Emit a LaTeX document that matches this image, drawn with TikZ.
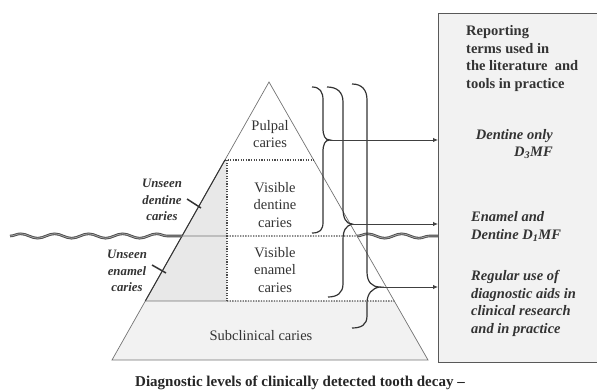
\documentclass[tikz,border=0pt]{standalone}
\usepackage{fontspec}
\setmainfont{Liberation Serif}
\usetikzlibrary{calc,arrows.meta,decorations.pathmorphing}
\begin{document}
\begin{tikzpicture}[x=1pt,y=-1pt,
  lbl/.style={inner sep=0pt, align=center, font=\fontsize{14.5}{17.5}\selectfont, text=black!80},
  unseen/.style={inner sep=0pt, align=center, font=\fontsize{12.8}{16.5}\selectfont\bfseries\itshape, text=black!80},
  boxtxt/.style={inner sep=0pt, font=\fontsize{14.5}{17.6}\selectfont\bfseries, text=black!80},
  boxital/.style={boxtxt, font=\fontsize{14.5}{17.6}\selectfont\bfseries\itshape},
  pyredge/.style={draw=black!55, line width=0.7pt},
  dotline/.style={draw=black!70, line width=1.2pt, dash pattern=on 1.3pt off 1.3pt},
  brace/.style={draw=black!80, line width=1.2pt},
  arr/.style={draw=black!75, line width=0.9pt, -{Latex[length=5pt,width=4.5pt]}},
  wave/.style={draw=black!70, line width=0.9pt, double=black!35, double distance=0.8pt, decorate, decoration={snake, segment length=34pt, amplitude=2.2pt}},
  tickmark/.style={draw=black!80, line width=1.5pt},
  boxline/.style={draw=black!65, line width=0.9pt},
]
\useasboundingbox (0,0) rectangle (597,390);

% reporting box
\node[draw=none, fill=black!5, minimum width=170pt, minimum height=349pt, anchor=north west, inner sep=0pt] (box) at (438,13) {};
\draw[boxline] (box.north east) -- (box.north west) -- (box.south west) -- (box.south east);

% pyramid geometry
\coordinate (apex) at (269,82);
\coordinate (bl) at (112,360);
\coordinate (br) at (428,360);
\coordinate (L1) at ($(apex)!0.2806!(bl)$);
\coordinate (R1) at ($(apex)!0.2806!(br)$);
\coordinate (L2) at ($(apex)!0.554!(bl)$);
\coordinate (R2) at ($(apex)!0.554!(br)$);
\coordinate (L3) at ($(apex)!0.7878!(bl)$);
\coordinate (R3) at ($(apex)!0.7878!(br)$);
\coordinate (V1) at (227,160);
\coordinate (V2) at (227,236);
\coordinate (V3) at (227,301);

\fill[black!9] (L1) -- (V1) -- (V3) -- (L3) -- cycle;
\fill[black!5] (L3) -- (R3) -- (br) -- (bl) -- cycle;

\draw[pyredge] (apex) -- (bl) -- (br) -- cycle;
\draw[draw=black!80, line width=1pt] (L1) -- (L3);
\draw[pyredge, line width=0.9pt] (L2) -- (V2);
\draw[pyredge, line width=0.9pt] (L3) -- (V3);
\draw[dotline] (L1) -- (R1);
\draw[dotline] (V1) -- (V3);
\draw[dotline] (V2) -- (R2);
\draw[dotline] (V3) -- (R3);

% water line
\coordinate (w0) at (10,236);
\draw[wave] (w0) -- (L2);
\draw[wave] (R2) -- (box.west |- R2);

% braces
\coordinate (t1) at (330,140);
\coordinate (t2) at (352,224);
\coordinate (t3) at (380,287);
\draw[brace] (312,87) .. controls (320,87) and (323,92) .. (323,100) -- (323,128)
  .. controls (323,136) and (325,140) .. (t1)
  .. controls (325,140) and (323,144) .. (323,152) -- (323,222)
  .. controls (323,230) and (320,233) .. (312,233);
\draw[brace] (327,87) .. controls (337,87) and (343,92) .. (343,102) -- (343,208)
  .. controls (343,218) and (346,224) .. (t2)
  .. controls (346,226) and (343,230) .. (343,240) -- (343,284)
  .. controls (343,293) and (337,297) .. (328,297);
\draw[brace] (352,84) .. controls (362,84) and (367,90) .. (367,100) -- (367,272)
  .. controls (367,282) and (372,287) .. (t3)
  .. controls (372,288) and (367,294) .. (367,303) -- (367,316)
  .. controls (367,325) and (361,328) .. (352,328);

% arrows
\draw[arr] (t1) -- (t1 -| box.west);
\draw[arr] (t2) -- (t2 -| box.west);
\draw[arr] (t3) -- (t3 -| box.west);

% tick marks
\draw[tickmark] (187,199) -- (201,208);
\draw[tickmark] (152,265) -- (166,273);

% pyramid labels
\node[lbl] (pulpal) at (270,134) {Pulpal\\caries};
\node[lbl] (vdent) at (275,205) {Visible\\dentine\\caries};
\node[lbl] (venam) at (275,270) {Visible\\enamel\\caries};
\node[lbl] (subcl) at (261,336) {Subclinical caries};
\node[unseen] (udent) at (162,200) {Unseen\\dentine\\caries};
\node[unseen] (uenam) at (127,271) {Unseen\\enamel\\caries};

% box texts
\node[boxtxt, anchor=west, align=left] (hdr) at (466,58.5) {Reporting\\terms used in\\the literature~ and\\tools in practice};
\node[boxital, anchor=east, align=right] (dentonly) at (553,144) {Dentine only\\D\textsubscript{3}MF};
\node[boxital, anchor=west, align=left] (enamdent) at (471,226.5) {Enamel and\\Dentine D\textsubscript{1}MF};
\node[boxital, anchor=west, align=left] (regular) at (471,303.5) {Regular use of\\diagnostic aids in\\clinical research\\and in practice};

% caption
\node[inner sep=0pt, anchor=base, font=\fontsize{15}{18}\selectfont\bfseries, text=black!85] (title) at (300,386) {Diagnostic levels of clinically detected tooth decay --};
\end{tikzpicture}
\end{document}
